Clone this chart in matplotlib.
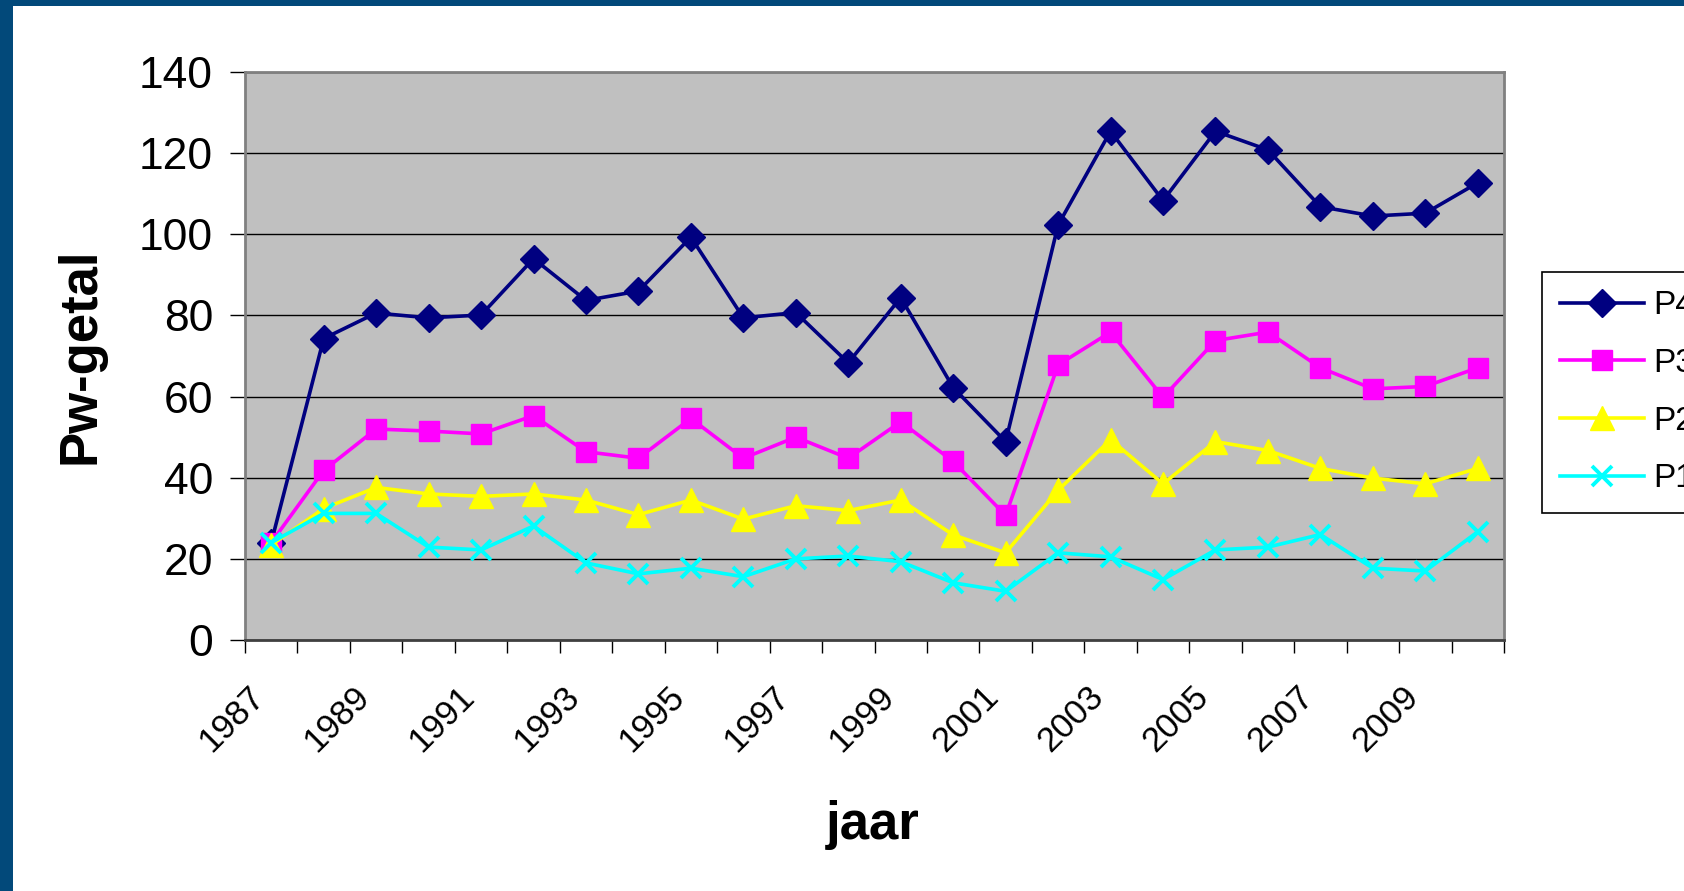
import matplotlib
matplotlib.use('Agg')
import matplotlib.pyplot as plt
from matplotlib.patches import Rectangle
from matplotlib.transforms import ScaledTranslation
import numpy as np

plt.rcParams['font.family'] = ['Liberation Sans', 'DejaVu Sans']

# data
years = list(range(1987, 2011))
p4 = [24.0, 74.3, 80.6, 79.4, 80.1, 94.0, 83.7, 86.0, 99.3, 79.4, 80.7, 68.3,
      84.4, 62.2, 48.9, 102.3, 125.4, 108.3, 125.4, 120.8, 106.8, 104.5, 105.2, 112.7]
p3 = [24.0, 41.8, 52.0, 51.5, 50.8, 55.3, 46.4, 44.8, 54.6, 44.8, 50.0, 44.8,
      53.8, 44.0, 30.7, 67.8, 75.9, 59.8, 73.8, 75.9, 67.1, 61.9, 62.5, 67.1]
p2 = [23.4, 32.4, 37.6, 36.0, 35.4, 36.0, 34.5, 30.9, 34.5, 29.8, 33.1, 31.9,
      34.5, 25.9, 21.5, 36.9, 49.4, 38.5, 48.9, 46.7, 42.3, 39.9, 38.5, 42.3]
p1 = [24.0, 31.2, 31.2, 22.9, 22.2, 28.1, 19.0, 16.3, 17.7, 15.6, 20.0, 20.7,
      19.3, 14.1, 12.0, 21.5, 20.5, 14.9, 22.2, 22.9, 26.0, 17.7, 17.0, 26.7]
series_names = ['P4', 'P3', 'P2', 'P1']

W, H = 1684, 891
fig = plt.figure(figsize=(W / 100, H / 100), dpi=100)

# blue frame + white panel
fig.patches.append(Rectangle((0, 0), 1, 1, transform=fig.transFigure,
                             facecolor='#02497A', edgecolor='none', zorder=-10))
fig.patches.append(Rectangle((13 / W, -0.1), 1.2, 1 - 6 / H + 0.1, transform=fig.transFigure,
                             facecolor='white', edgecolor='none', zorder=-9))

ax = fig.add_axes([245 / W, 1 - 640 / H, (1504 - 245) / W, (640 - 72) / H])
ax.set_facecolor('#C0C0C0')

x = np.arange(len(years))
styles = [
    (p4, '#000080', 'D', 14),
    (p3, '#FF00FF', 's', 15),
    (p2, '#FFFF00', '^', 17),
    (p1, '#00FFFF', 'x', 15),
]
for (vals, col, mk, ms), name in zip(styles, series_names):
    ax.plot(x, vals, color=col, lw=2.6, marker=mk, markersize=ms,
            markeredgewidth=2.8 if mk == 'x' else 1, markeredgecolor=col,
            markerfacecolor=col, label=name, zorder=3)

ax.set_xlim(-0.5, len(years) - 0.5)
ax.set_ylim(0, 140)
ax.set_yticks(range(0, 141, 20))
ax.tick_params(axis='y', labelsize=32, length=11, width=1, pad=12)
ax.yaxis.grid(True, color='black', lw=1)
ax.set_axisbelow(True)

ax.set_xticks(x[::2])
ax.set_xticklabels([str(y) for y in years[::2]], rotation=45, ha='right',
                   va='center', rotation_mode='anchor')
ax.set_xticks(np.arange(-0.5, len(years), 1), minor=True)
ax.tick_params(axis='x', which='major', length=0, labelsize=25, pad=37)
ax.tick_params(axis='x', which='minor', length=9, width=1)
shift = ScaledTranslation(-12 / 100, 0, fig.dpi_scale_trans)
for lbl in ax.get_xticklabels():
    lbl.set_transform(lbl.get_transform() + shift)

for side in ['top', 'right', 'left']:
    ax.spines[side].set_color('#808080')
    ax.spines[side].set_linewidth(2)
ax.spines['bottom'].set_color('#404040')
ax.spines['bottom'].set_linewidth(2)

fig.text(80.5 / W, 1 - 356 / H, 'Pw-getal', rotation=90, ha='center', va='center',
         fontsize=38, fontweight='bold')
fig.text(873 / W, 1 - 825 / H, 'jaar', ha='center', va='center',
         fontsize=38, fontweight='bold')

leg = ax.legend(loc='upper left', bbox_to_anchor=(1542 / W, 1 - 272 / H),
                bbox_transform=fig.transFigure, fontsize=24, frameon=True,
                fancybox=False, edgecolor='black', framealpha=1,
                handlelength=2.5, handletextpad=0.3, labelspacing=0.8,
                borderpad=0.55, borderaxespad=0)
leg.get_frame().set_linewidth(1.2)

fig.savefig('out.png', dpi=100)
